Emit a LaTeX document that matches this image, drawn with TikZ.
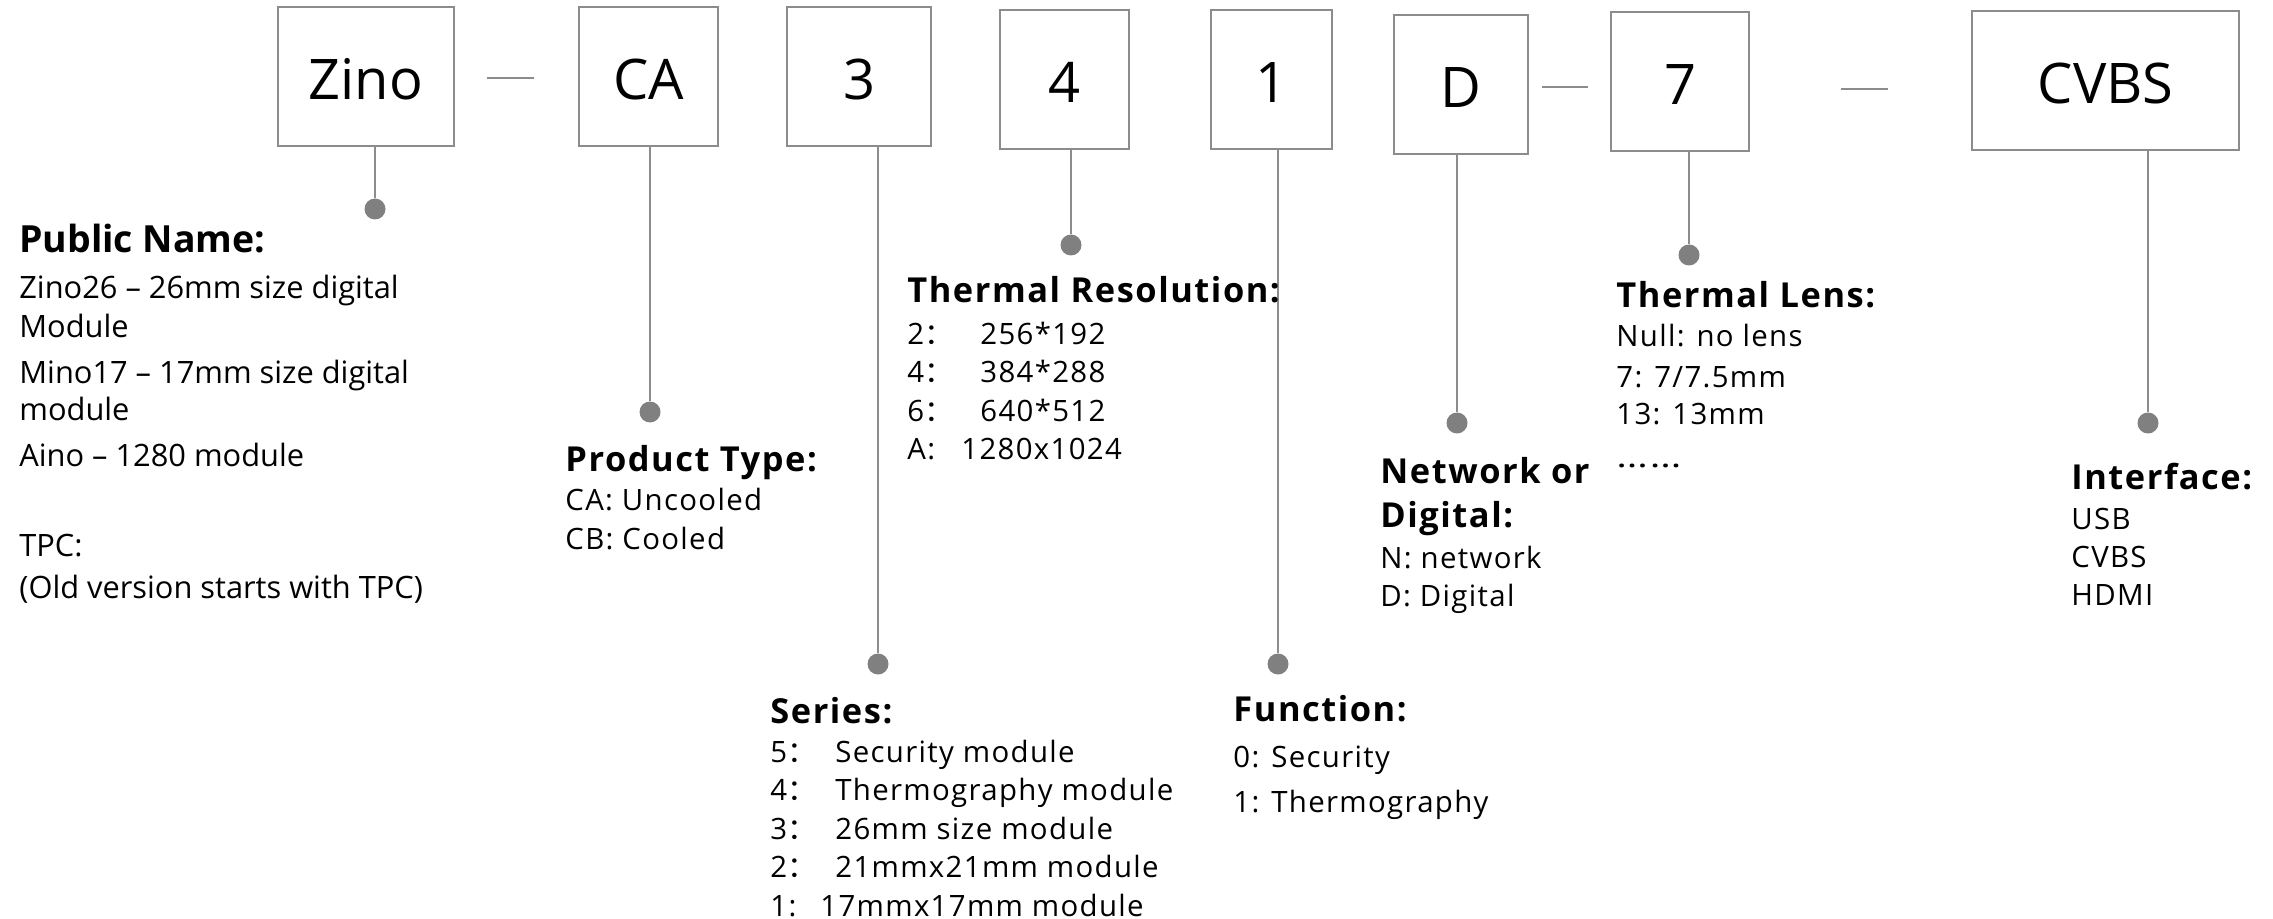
\documentclass[tikz,border=0pt]{standalone}
\usepackage{fontspec}
\usetikzlibrary{calc}
\setmainfont{Open Sans}
\newfontfamily\trk[LetterSpace=4.5]{Open Sans}
\newfontfamily\cjk{Noto Sans CJK SC}
\definecolor{linegray}{HTML}{8C8C8C}
\definecolor{dotgray}{HTML}{808080}
\begin{document}
\begin{tikzpicture}[x=0.5pt,y=-0.5pt,
  codebox/.style={draw=linegray,line width=1pt,inner sep=0pt,minimum height=69.5pt,text height=23.5pt,text depth=0pt,font=\fontsize{28}{30}\selectfont},
  conn/.style={draw=linegray,line width=1pt},
  dash line/.style={draw=linegray,line width=1pt},
  dot/.style={circle,fill=dotgray,inner sep=0pt,minimum size=10.5pt},
  txt/.style={anchor=base west,inner sep=0pt,font=\trk\fontsize{14.7}{16}\selectfont},
  ttl/.style={anchor=base west,inner sep=0pt,font=\trk\fontsize{17.2}{19}\selectfont\bfseries},
  pntxt/.style={anchor=base west,inner sep=0pt,font=\fontsize{15.4}{17}\selectfont},
  pnttl/.style={anchor=base west,inner sep=0pt,font=\fontsize{18.7}{20}\selectfont\bfseries}]
\useasboundingbox (0,0) rectangle (2273,919);
% code boxes
\node[codebox,minimum width=88pt]   (zino) at (366,76.5)   {Zino};
\node[codebox,minimum width=69.5pt] (ca)   at (648.5,76.5) {CA};
\node[codebox,minimum width=72pt]   (ser)  at (859,76.5)   {3};
\node[codebox,minimum width=64.5pt] (res)  at (1064.5,79.5) {4};
\node[codebox,minimum width=60.5pt] (fun)  at (1271.5,79.5) {1};
\node[codebox,minimum width=67pt]   (net)  at (1461,84.5)  {D};
\node[codebox,minimum width=69pt]   (lens) at (1680,81.5)  {7};
\node[codebox,minimum width=133.5pt] (intf) at (2105.5,80.5) {CVBS};
% separators
\draw[dash line] ($(zino.east)+(32,1.5)$) -- ($(ca.west)+(-44,1.5)$);
\draw[dash line] ($(net.east)+(13,2.5)$) -- ($(lens.west)+(-22,5.5)$);
\draw[dash line] ($(lens.east)+(91,7.5)$) -- ($(intf.west)+(-83,8.5)$);
% dots
\node[dot] (dzino) at (375,209) {};
\node[dot] (dca)   at (650,412) {};
\node[dot] (dser)  at (878,664) {};
\node[dot] (dres)  at (1071,245) {};
\node[dot] (dfun)  at (1278,664) {};
\node[dot] (dnet)  at (1457,423) {};
\node[dot] (dlens) at (1689,255) {};
\node[dot] (dintf) at (2148,423) {};
% connectors
\draw[conn] (zino.south -| dzino) -- (dzino);
\draw[conn] (ca.south -| dca) -- (dca);
\draw[conn] (ser.south -| dser) -- (dser);
\draw[conn] (res.south -| dres) -- (dres);
\draw[conn] (fun.south -| dfun) -- (dfun);
\draw[conn] (net.south -| dnet) -- (dnet);
\draw[conn] (lens.south -| dlens) -- (dlens);
\draw[conn] (intf.south -| dintf) -- (dintf);
% Public Name
\node[pnttl] (pn0) at (19,253) {Public Name:};
\node[pntxt] (pn1) at (19,299) {Zino26 – 26mm size digital};
\node[pntxt] (pn2) at (19,337) {Module};
\node[pntxt] (pn3) at (19,383) {Mino17 – 17mm size digital};
\node[pntxt] (pn4) at (19,420) {module};
\node[pntxt] (pn5) at (19,466) {Aino – 1280 module};
\node[pntxt] (pn6) at (19,556) {TPC:};
\node[pntxt] (pn7) at (19,598) {(Old version starts with TPC)};
% Product Type
\node[ttl] (pt0) at (565,471) {Product Type:};
\node[txt] (pt1) at (565,510) {CA: Uncooled};
\node[txt] (pt2) at (565,549) {CB: Cooled};
% Thermal Resolution
\node[ttl] (tr0) at (907,303) {Thermal Resolution:};
\node[txt] (tr1) at (907,344) {\makebox[36.5pt][l]{2{\cjk ：}}256*192};
\node[txt] (tr2) at (907,382) {\makebox[36.5pt][l]{4{\cjk ：}}384*288};
\node[txt] (tr3) at (907,421) {\makebox[36.5pt][l]{6{\cjk ：}}640*512};
\node[txt] (tr4) at (907,459) {\makebox[27pt][l]{A:}1280x1024};
% Series
\node[ttl] (se0) at (770,723) {Series:};
\node[txt] (se1) at (770,762) {\makebox[32.5pt][l]{5{\cjk ：}}Security module};
\node[txt] (se2) at (770,800) {\makebox[32.5pt][l]{4{\cjk ：}}Thermography module};
\node[txt] (se3) at (770,839) {\makebox[32.5pt][l]{3{\cjk ：}}26mm size module};
\node[txt] (se4) at (770,877) {\makebox[32.5pt][l]{2{\cjk ：}}21mmx21mm module};
\node[txt] (se5) at (770,916) {\makebox[25pt][l]{1:}17mmx17mm module};
% Function
\node[ttl] (fn0) at (1233,721) {Function:};
\node[txt] (fn1) at (1233,767) {0: Security};
\node[txt] (fn2) at (1233,812) {1: Thermography};
% Network or Digital
\node[ttl] (nd0) at (1380,483) {Network or};
\node[ttl] (nd1) at (1380,527) {Digital:};
\node[txt] (nd2) at (1380,568) {N: network};
\node[txt] (nd3) at (1380,606) {D: Digital};
% Thermal Lens
\node[ttl] (tl0) at (1616,308) {Thermal Lens:};
\node[txt] (tl1) at (1616,347) {Null: no lens};
\node[txt] (tl2) at (1616,387) {7: 7/7.5mm};
\node[txt] (tl3) at (1616,424) {13: 13mm};
\node[txt] (tl4) at (1616,467) {\scalebox{1.37}[1]{……}};
% Interface
\node[ttl] (if0) at (2071,489) {Interface:};
\node[txt] (if1) at (2071,529) {USB};
\node[txt] (if2) at (2071,567) {CVBS};
\node[txt] (if3) at (2071,605) {HDMI};
\end{tikzpicture}
\end{document}
